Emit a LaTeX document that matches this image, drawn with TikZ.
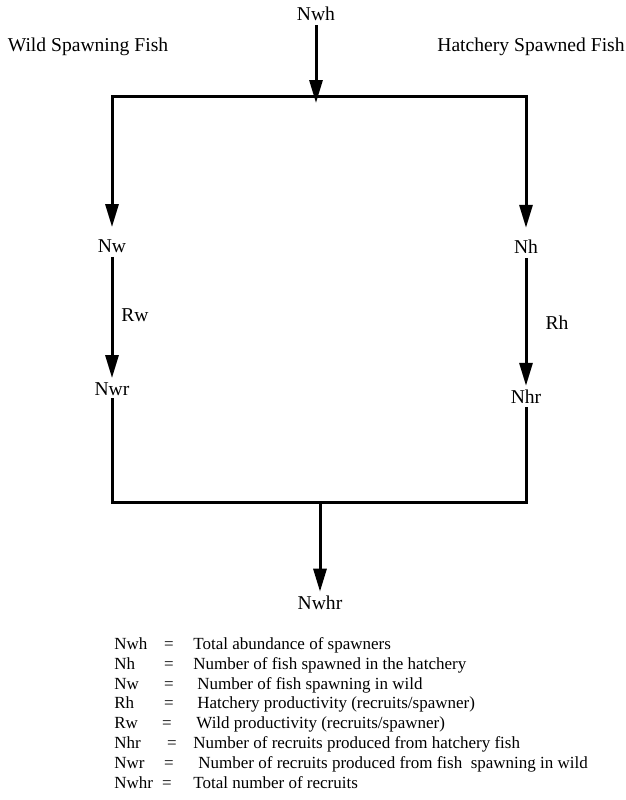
\documentclass[tikz,border=0pt]{standalone}
\usepackage{fontspec}
\setmainfont{Liberation Serif}
\usetikzlibrary{arrows.meta}
\tikzstyle{lbl}=[inner sep=2pt,font=\fontsize{9.8}{12}\selectfont]
\tikzstyle{key}=[anchor=base west,inner sep=0pt,font=\fontsize{8.5}{10}\selectfont]
\tikzstyle{eq}=[anchor=base,inner sep=0pt,font=\fontsize{8.5}{10}\selectfont]
\tikzstyle{flow}=[line width=1.5pt,-{Triangle[length=11.5pt,width=6.5pt]}]
\tikzstyle{bar}=[line width=1.5pt,line cap=rect]

\begin{document}
\begin{tikzpicture}[x=0.5pt,y=-0.5pt]
\useasboundingbox (0,0) rectangle (626,800);
% labels
\node[lbl] (nwh) at (316,14) {Nwh};
\node[lbl] (wild) at (88,47) {Wild Spawning Fish};
\node[lbl] (hatch) at (531,47) {Hatchery Spawned Fish};
\node[lbl] (nw) at (112,246) {Nw};
\node[lbl] (nh) at (526,247) {Nh};
\node[lbl] (rw) at (135,315) {Rw};
\node[lbl] (rh) at (557,323) {Rh};
\node[lbl] (nwr) at (112,389) {Nwr};
\node[lbl] (nhr) at (526,397) {Nhr};
\node[lbl] (nwhr) at (320,603) {Nwhr};
\coordinate (split) at (316,103);
\coordinate (topl) at (112,96);
\coordinate (topr) at (526,96);
\coordinate (botl) at (112,502);
\coordinate (botr) at (526,502);
\coordinate (join) at (320,502);
% flow
\draw[flow] (nwh) -- (split);
\draw[bar] (topl) -- (topr);
\draw[flow,shorten >=4pt] (topl) -- (nw);
\draw[flow,shorten >=4pt] (topr) -- (nh);
\draw[flow] (nw) -- (nwr);
\draw[flow] (nh) -- (nhr);
\draw[bar] (nwr) -- (botl) -- (botr) -- (nhr);
\draw[flow] (join) -- (nwhr);
% key
\node[key] (k1) at (114,649) {Nwh};
\node[eq] (q1) at (169,649) {=};
\node[key] (d1) at (193,649) {Total abundance of spawners};
\node[key] (k2) at (114,669) {Nh};
\node[eq] (q2) at (169,669) {=};
\node[key] (d2) at (193,669) {Number of fish spawned in the hatchery};
\node[key] (k3) at (114,689) {Nw};
\node[eq] (q3) at (169,689) {=};
\node[key] (d3) at (197,689) {Number of fish spawning in wild};
\node[key] (k4) at (114,708) {Rh};
\node[eq] (q4) at (169,708) {=};
\node[key] (d4) at (197,708) {Hatchery productivity (recruits/spawner)};
\node[key] (k5) at (114,728) {Rw};
\node[eq] (q5) at (167,728) {=};
\node[key] (d5) at (196,728) {Wild productivity (recruits/spawner)};
\node[key] (k6) at (114,748) {Nhr};
\node[eq] (q6) at (172,748) {=};
\node[key] (d6) at (193,748) {Number of recruits produced from hatchery fish};
\node[key] (k7) at (114,768) {Nwr};
\node[eq] (q7) at (169,768) {=};
\node[key] (d7) at (198,768) {Number of recruits produced from fish\ \ spawning in wild};
\node[key] (k8) at (114,788) {Nwhr};
\node[eq] (q8) at (167,788) {=};
\node[key] (d8) at (193,788) {Total number of recruits};
\end{tikzpicture}
\end{document}
